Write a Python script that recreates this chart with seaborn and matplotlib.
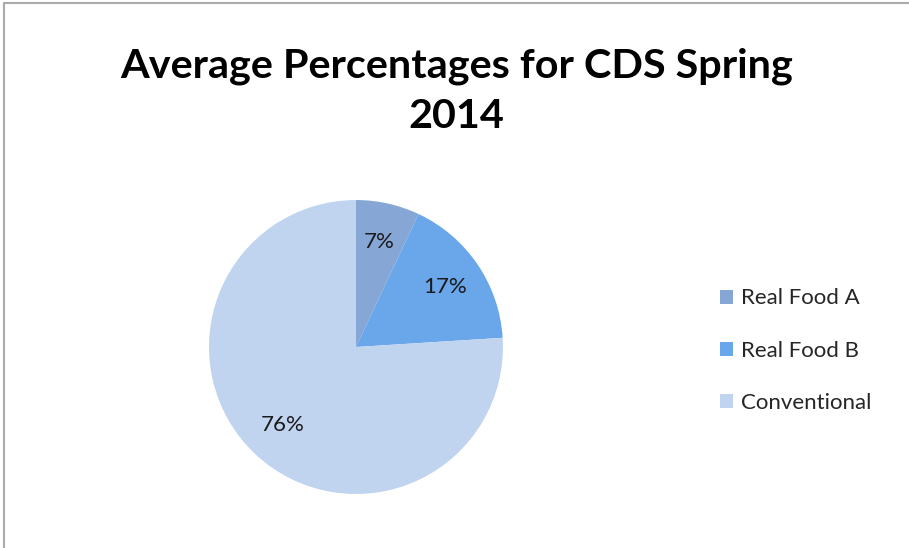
import matplotlib
matplotlib.use("Agg")
import matplotlib.pyplot as plt
from matplotlib.lines import Line2D
import seaborn as sns

# data
categories = ["Real Food A", "Real Food B", "Conventional"]
shares = [7, 17, 76]
colors = ["#86a6d6", "#6aa6ea", "#c0d4f0"]

sns.set_theme(style="white")
plt.rcParams['font.family'] = ['Lato', 'DejaVu Sans']

fig = plt.figure(figsize=(9.09, 5.48), dpi=100)
ax = fig.add_axes([0.2299, 0.0985, 0.3234, 0.5365])

wedges, texts, autotexts = ax.pie(
    shares, colors=colors, startangle=90, counterclock=False,
    autopct='%.0f%%', pctdistance=0.73,
    textprops={'fontsize': 16, 'color': '#1a1a1a'},
    wedgeprops={'linewidth': 0})
ax.set_xlim(-1, 1)
ax.set_ylim(-1, 1)
ax.set_aspect('equal')

fig.text(0.502, 0.833, "Average Percentages for CDS Spring\n2014",
         ha='center', va='center', fontsize=29.8, fontweight='bold',
         linespacing=1.44, color='black')

fig.legend(wedges, categories, loc='center left', bbox_to_anchor=(0.77, 0.36),
           frameon=False, fontsize=16, handlelength=0.6, handleheight=0.6,
           handletextpad=0.36, labelspacing=1.45)

# chart border (top and left visible)
fig.add_artist(Line2D([0.004, 1.0], [0.995, 0.995], color='#aaaaaa', lw=1.5))
fig.add_artist(Line2D([0.004, 0.004], [0.0, 0.995], color='#aaaaaa', lw=1.5))

fig.savefig("out.png", dpi=100)
